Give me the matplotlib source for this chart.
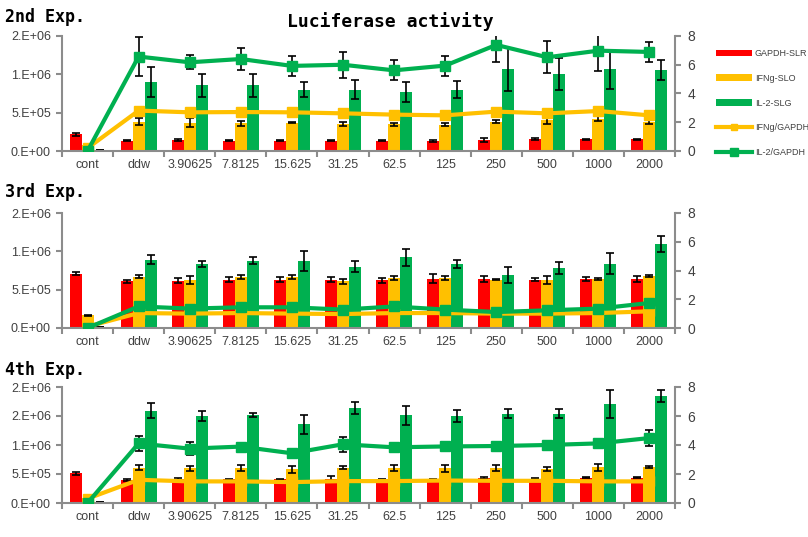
import matplotlib
matplotlib.use("Agg")
import matplotlib.pyplot as plt
from matplotlib.ticker import FuncFormatter
import numpy as np

categories = ["cont", "ddw", "3.90625", "7.8125", "15.625", "31.25", "62.5",
              "125", "250", "500", "1000", "2000"]

# ---- 2nd experiment (luminescence, x1e6) ----
gapdh2 = [0.217, 0.135, 0.139, 0.135, 0.135, 0.135, 0.135, 0.13, 0.143, 0.157, 0.152, 0.152]
gapdh2_err = [0.02, 0.01, 0.015, 0.01, 0.01, 0.01, 0.01, 0.01, 0.03, 0.015, 0.01, 0.01]
ifng2 = [0.08, 0.383, 0.37, 0.36, 0.37, 0.35, 0.35, 0.34, 0.383, 0.40, 0.42, 0.38]
ifng2_err = [0.0, 0.05, 0.06, 0.03, 0.01, 0.03, 0.02, 0.02, 0.02, 0.05, 0.03, 0.03]
il2_2 = [0.01, 0.9, 0.857, 0.857, 0.8, 0.8, 0.77, 0.80, 1.065, 1.0, 1.065, 1.056]
il2_2_err = [0.0, 0.2, 0.15, 0.15, 0.1, 0.12, 0.13, 0.11, 0.28, 0.21, 0.25, 0.13]
ratio_ifng2 = [0.2, 2.81, 2.69, 2.71, 2.69, 2.62, 2.53, 2.48, 2.74, 2.62, 2.78, 2.48]
ratio_il2_2 = [0.0, 6.57, 6.17, 6.4, 5.92, 6.0, 5.61, 5.94, 7.38, 6.52, 6.98, 6.89]
ratio_il2_2_err = [0.0, 1.33, 0.5, 0.77, 0.72, 0.92, 0.7, 0.7, 1.18, 1.1, 1.41, 0.67]

# ---- 3rd experiment ----
gapdh3 = [0.71, 0.61, 0.617, 0.63, 0.63, 0.63, 0.62, 0.643, 0.64, 0.63, 0.64, 0.64]
gapdh3_err = [0.02, 0.02, 0.03, 0.03, 0.03, 0.03, 0.03, 0.06, 0.04, 0.02, 0.03, 0.04]
ifng3 = [0.165, 0.67, 0.63, 0.665, 0.665, 0.61, 0.65, 0.65, 0.63, 0.63, 0.64, 0.68]
ifng3_err = [0.01, 0.02, 0.05, 0.02, 0.02, 0.03, 0.03, 0.03, 0.01, 0.05, 0.015, 0.015]
il2_3 = [0.01, 0.89, 0.83, 0.88, 0.88, 0.80, 0.92, 0.835, 0.69, 0.78, 0.84, 1.095]
il2_3_err = [0.0, 0.06, 0.04, 0.04, 0.13, 0.07, 0.11, 0.05, 0.1, 0.08, 0.14, 0.1]
ratio_ifng3 = [0.1, 1.04, 1.0, 1.04, 1.0, 0.97, 1.04, 1.04, 1.0, 1.0, 1.04, 1.16]
ratio_il2_3 = [0.0, 1.5, 1.35, 1.44, 1.44, 1.28, 1.5, 1.28, 1.11, 1.23, 1.35, 1.74]
ratio_il2_3_err = [0.0] * 12

# ---- 4th experiment ----
gapdh4 = [0.51, 0.40, 0.417, 0.41, 0.41, 0.42, 0.41, 0.41, 0.43, 0.42, 0.434, 0.434]
gapdh4_err = [0.03, 0.02, 0.02, 0.01, 0.01, 0.04, 0.01, 0.01, 0.01, 0.01, 0.01, 0.01]
ifng4 = [0.08, 0.61, 0.6, 0.6, 0.58, 0.61, 0.6, 0.6, 0.6, 0.59, 0.617, 0.617]
ifng4_err = [0.0, 0.04, 0.04, 0.05, 0.06, 0.025, 0.05, 0.06, 0.05, 0.03, 0.06, 0.02]
il2_4 = [0.01, 1.594, 1.5, 1.52, 1.36, 1.64, 1.51, 1.503, 1.537, 1.537, 1.71, 1.84]
il2_4_err = [0.0, 0.137, 0.08, 0.03, 0.163, 0.1, 0.17, 0.1, 0.08, 0.08, 0.24, 0.1]
ratio_ifng4 = [0.3, 1.6, 1.49, 1.49, 1.44, 1.51, 1.51, 1.55, 1.53, 1.53, 1.49, 1.49]
ratio_il2_4 = [0.0, 4.11, 3.75, 3.89, 3.43, 4.05, 3.84, 3.9, 3.93, 4.0, 4.11, 4.48]
ratio_il2_4_err = [0.0, 0.53, 0.46, 0.1, 0.1, 0.51, 0.25, 0.1, 0.1, 0.1, 0.2, 0.57]

series_names = ["GAPDH-SLR", "IFNg-SLO", "IL-2-SLG", "IFNg/GAPDH", "IL-2/GAPDH"]
panel_titles = ["2nd Exp.", "3rd Exp.", "4th Exp."]
left_max = [1.5e6, 1.5e6, 2.0e6]

RED = "#FF0000"
YELLOW = "#FFC000"
GREEN = "#00B050"
AXIS_GRAY = "#8C8C8C"
TEXT_GRAY = "#404040"

W, H = 808, 537
fig = plt.figure(figsize=(W / 100, H / 100), dpi=100)
plt.rcParams["font.family"] = ["Liberation Sans", "DejaVu Sans"]

# axes boxes in pixels: (left, top, right, bottom)
boxes = [(62, 36, 675, 151), (62, 213, 675, 328), (62, 387, 675, 503)]
title_y = [17, 192, 370]

panels = [
    (gapdh2, gapdh2_err, ifng2, ifng2_err, il2_2, il2_2_err, ratio_ifng2, ratio_il2_2, ratio_il2_2_err),
    (gapdh3, gapdh3_err, ifng3, ifng3_err, il2_3, il2_3_err, ratio_ifng3, ratio_il2_3, ratio_il2_3_err),
    (gapdh4, gapdh4_err, ifng4, ifng4_err, il2_4, il2_4_err, ratio_ifng4, ratio_il2_4, ratio_il2_4_err),
]


def excel_sci(v, pos):
    s = f"{v:.0E}"
    return s[0] + "." + s[1:]


x = np.arange(len(categories))
bw = 0.235
err_kw = dict(ecolor="black", elinewidth=1.2, capsize=3, capthick=1.2)
handles = None

for i, (data, box) in enumerate(zip(panels, boxes)):
    g, ge, f, fe, l2, l2e, rf, rl, rle = data
    scale = 1e6
    l, t, r, b = box
    ax = fig.add_axes([l / W, 1 - b / H, (r - l) / W, (b - t) / H])
    bars_r = ax.bar(x - bw, np.array(g) * scale, bw, yerr=np.array(ge) * scale,
                    color=RED, error_kw=err_kw, label=series_names[0], zorder=2)
    bars_y = ax.bar(x, np.array(f) * scale, bw, yerr=np.array(fe) * scale,
                    color=YELLOW, error_kw=err_kw, label=series_names[1], zorder=2)
    bars_g = ax.bar(x + bw, np.array(l2) * scale, bw, yerr=np.array(l2e) * scale,
                    color=GREEN, error_kw=err_kw, label=series_names[2], zorder=2)

    ymax = left_max[i]
    ax.set_xlim(-0.5, len(categories) - 0.5)
    ax.set_ylim(0, ymax)
    ax.set_yticks(np.arange(0, ymax + 1, 5e5))
    ax.yaxis.set_major_formatter(FuncFormatter(excel_sci))
    ax.set_xticks(np.arange(-0.5, len(categories), 1.0))
    ax.set_xticklabels([])
    ax.set_xticks(x, minor=True)
    ax.set_xticklabels(categories, minor=True)
    ax.tick_params(axis="x", which="major", length=4, width=1.5, color=AXIS_GRAY)
    ax.tick_params(axis="x", which="minor", length=0, pad=6, labelsize=9, labelcolor=TEXT_GRAY)
    ax.tick_params(axis="y", length=4, width=1.5, color=AXIS_GRAY, labelsize=9,
                   labelcolor=TEXT_GRAY, pad=4)
    for side in ("top", "right"):
        ax.spines[side].set_visible(False)
    for side in ("left", "bottom"):
        ax.spines[side].set_color(AXIS_GRAY)
        ax.spines[side].set_linewidth(1.5)

    ax2 = ax.twinx()
    ln_y, = ax2.plot(x, rf, color=YELLOW, lw=3, marker="s", ms=6.5,
                     label=series_names[3], zorder=3)
    ax2.errorbar(x, rl, yerr=rle, fmt="none", zorder=4, **err_kw)
    ln_g, = ax2.plot(x, rl, color=GREEN, lw=3, marker="s", ms=7.5,
                     label=series_names[4], zorder=5)
    ax2.set_ylim(0, 8)
    ax2.set_yticks([0, 2, 4, 6, 8])
    ax2.tick_params(axis="y", length=4, width=1.5, color=AXIS_GRAY, labelsize=10,
                    labelcolor=TEXT_GRAY, pad=5)
    for side in ("top", "left", "bottom"):
        ax2.spines[side].set_visible(False)
    ax2.spines["right"].set_color(AXIS_GRAY)
    ax2.spines["right"].set_linewidth(1.5)

    fig.text(5 / W, 1 - title_y[i] / H, panel_titles[i], ha="left", va="center",
             fontsize=12, fontweight="bold", family="DejaVu Sans Mono")

    if handles is None:
        handles = [bars_r, bars_y, bars_g, ln_y, ln_g]

fig.text(390 / W, 1 - 22 / H, "Luciferase activity", ha="center", va="center",
         fontsize=13, fontweight="bold", family="DejaVu Sans Mono")

leg = fig.legend(handles, series_names, loc="upper left",
                 bbox_to_anchor=(716 / W, 1 - 49 / H), frameon=False, fontsize=6.5,
                 handlelength=4.0, handletextpad=0.3, labelspacing=1.75,
                 borderpad=0, borderaxespad=0, labelcolor=TEXT_GRAY, markerscale=0.7)

fig.savefig("out.png", dpi=100)
